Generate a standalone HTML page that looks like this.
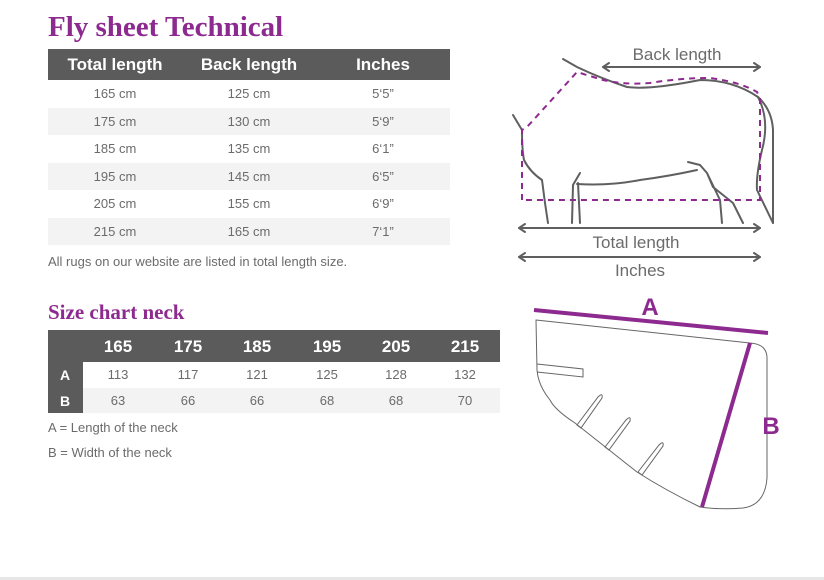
<!DOCTYPE html>
<html><head><meta charset="utf-8"><style>
body{margin:0;width:824px;height:580px;background:#fff;position:relative;overflow:hidden;font-family:"Liberation Sans",sans-serif;color:#6b6b6b}
.t{position:absolute;white-space:nowrap}
h1,h2{position:absolute;margin:0;font-family:"Liberation Serif",serif;font-weight:bold;color:#8d2a8f}
.hd{position:absolute;background:#5b5b5b}
.g{position:absolute;background:#f3f3f3}
.c{font-size:13px;transform:translateX(-50%)}
.w{color:#fff;font-weight:bold;font-size:17px}
</style></head><body>
<h1 style="left:48px;top:11px;font-size:29px">Fly sheet Technical</h1>
<div class="hd" style="left:48px;top:49px;width:402px;height:31px"></div>
<div class="t c w" style="left:115px;top:55px">Total length</div>
<div class="t c w" style="left:249px;top:55px">Back length</div>
<div class="t c w" style="left:383px;top:55px">Inches</div>
<div class="g" style="left:48px;top:108px;width:402px;height:27px"></div>
<div class="g" style="left:48px;top:163px;width:402px;height:27px"></div>
<div class="g" style="left:48px;top:218px;width:402px;height:27px"></div>
<div class="t c" style="left:115px;top:86px">165 cm</div><div class="t c" style="left:249px;top:86px">125 cm</div><div class="t c" style="left:383px;top:86px">5‘5”</div>
<div class="t c" style="left:115px;top:114px">175 cm</div><div class="t c" style="left:249px;top:114px">130 cm</div><div class="t c" style="left:383px;top:114px">5‘9”</div>
<div class="t c" style="left:115px;top:141px">185 cm</div><div class="t c" style="left:249px;top:141px">135 cm</div><div class="t c" style="left:383px;top:141px">6‘1”</div>
<div class="t c" style="left:115px;top:169px">195 cm</div><div class="t c" style="left:249px;top:169px">145 cm</div><div class="t c" style="left:383px;top:169px">6‘5”</div>
<div class="t c" style="left:115px;top:196px">205 cm</div><div class="t c" style="left:249px;top:196px">155 cm</div><div class="t c" style="left:383px;top:196px">6‘9”</div>
<div class="t c" style="left:115px;top:224px">215 cm</div><div class="t c" style="left:249px;top:224px">165 cm</div><div class="t c" style="left:383px;top:224px">7‘1”</div>
<div class="t" style="left:48px;top:254px;font-size:13px">All rugs on our website are listed in total length size.</div>

<h2 style="left:48px;top:300px;font-size:21px">Size chart neck</h2>
<div class="hd" style="left:48px;top:330px;width:452px;height:32px"></div>
<div class="hd" style="left:48px;top:362px;width:35px;height:51px"></div>
<div class="g" style="left:83px;top:388px;width:417px;height:25px"></div>
<div class="t c w" style="left:118px;top:337px">165</div><div class="t c w" style="left:188px;top:337px">175</div><div class="t c w" style="left:257px;top:337px">185</div><div class="t c w" style="left:327px;top:337px">195</div><div class="t c w" style="left:396px;top:337px">205</div><div class="t c w" style="left:465px;top:337px">215</div>
<div class="t c w" style="left:65px;top:367px;font-size:14px">A</div><div class="t c w" style="left:65px;top:393px;font-size:14px">B</div>
<div class="t c" style="left:118px;top:367px">113</div><div class="t c" style="left:188px;top:367px">117</div><div class="t c" style="left:257px;top:367px">121</div><div class="t c" style="left:327px;top:367px">125</div><div class="t c" style="left:396px;top:367px">128</div><div class="t c" style="left:465px;top:367px">132</div>
<div class="t c" style="left:118px;top:393px">63</div><div class="t c" style="left:188px;top:393px">66</div><div class="t c" style="left:257px;top:393px">66</div><div class="t c" style="left:327px;top:393px">68</div><div class="t c" style="left:396px;top:393px">68</div><div class="t c" style="left:465px;top:393px">70</div>
<div class="t" style="left:48px;top:420px;font-size:13px">A = Length of the neck</div>
<div class="t" style="left:48px;top:445px;font-size:13px">B = Width of the neck</div>

<svg width="824" height="580" style="position:absolute;left:0;top:0" fill="none">
<g stroke="#5f5f5f" stroke-width="2" stroke-linecap="round" stroke-linejoin="round">
<path d="M563 59 L577 67 Q600 78 627 87 Q650 90 700 80 Q733 80 758 97 Q772 110 773 130 L773 223"/>
<path d="M758 97 Q770 120 762 150 Q756 175 757 190 L773 223"/>
<path d="M513 115 L522 130 Q522 150 524 160 Q530 172 542 180 L545 203 L548 223"/>
<path d="M572 223 L573 185 L580 173 M580 223 L578 183"/>
<path d="M577 184 Q610 186 640 180 Q670 176 697 170 M688 162 L700 165 L707 173 L720 200 L722 223 M707 173 L713 187 L733 203 L743 223"/>
<path d="M519 228 H760 M519 257 H760 M603 67 H760"/>
<path d="M525 224 L519 228 L525 232 M754 224 L760 228 L754 232 M525 253 L519 257 L525 261 M754 253 L760 257 L754 261 M609 63 L603 67 L609 71 M754 63 L760 67 L754 71"/>
</g>
<path d="M522 200 V130 L527 127 L577 72 Q590 76 603 80 Q625 85 650 83 Q680 78 710 78 Q740 82 757 92 L760 98 V200 Z" stroke="#8d2a8f" stroke-width="2" stroke-dasharray="6 5"/>
<text x="677" y="60" font-size="17" fill="#6b6b6b" text-anchor="middle" font-family="Liberation Sans">Back length</text>
<text x="636" y="248" font-size="17" fill="#6b6b6b" text-anchor="middle" font-family="Liberation Sans">Total length</text>
<text x="640" y="276" font-size="17" fill="#6b6b6b" text-anchor="middle" font-family="Liberation Sans">Inches</text>
<g stroke="#666" stroke-width="1">
<path d="M536 320 L750 343 Q768 344 767 360 Q767 420 767 478 Q765 505 743 508 Q720 510 700 507 Q665 490 637 472 L575 423 Q555 410 550 400 Q538 385 537 370 Z"/>
<path d="M537 364 L583 369 L583 377 L537 372"/>
<path d="M577 425 L598 397 Q603 392 602 398 L581 428 Z M605 447 L626 420 Q631 415 630 421 L609 450 Z M638 472 L659 445 Q664 440 663 446 L642 475 Z"/>
</g>
<path d="M534 310 L768 333 M750 343 L702 507" stroke="#8d2a8f" stroke-width="4"/>
<text x="650" y="315" font-size="24" font-weight="bold" fill="#8d2a8f" text-anchor="middle" font-family="Liberation Sans">A</text>
<text x="771" y="434" font-size="24" font-weight="bold" fill="#8d2a8f" text-anchor="middle" font-family="Liberation Sans">B</text>
</svg>
<div style="position:absolute;left:0;top:577px;width:824px;height:3px;background:#e6e6e6"></div>
</body></html>
